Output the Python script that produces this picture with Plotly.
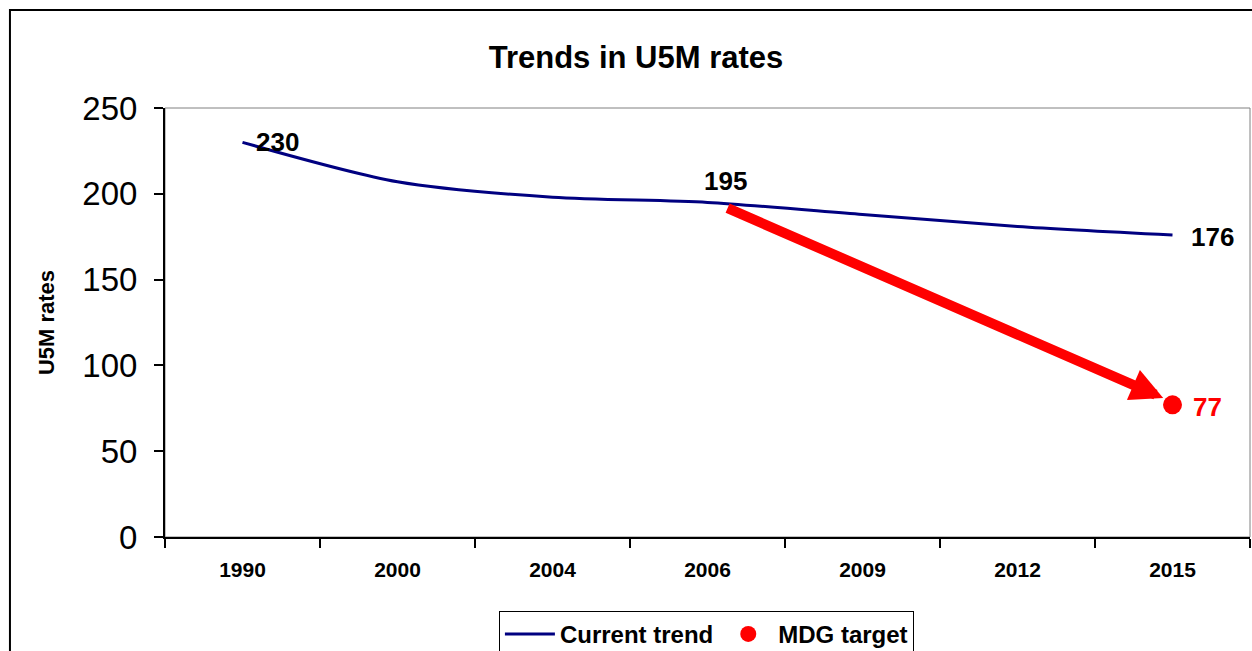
import plotly.graph_objects as go

categories = ["1990", "2000", "2004", "2006", "2009", "2012", "2015"]
current_trend = [230, 207, 198, 195, 188, 181, 176]
labelled_points = ["1990", "2006", "2015"]
mdg_category = "2015"
mdg_target = [77]
arrow_start_value = 192
arrow_end_value = 81

FONT = "Arial, Liberation Sans, sans-serif"
xpos = list(range(len(categories)))
mdg_x = categories.index(mdg_category)

fig = go.Figure()
fig.add_trace(go.Scatter(
    x=xpos, y=current_trend, mode="lines", name="Current trend",
    line=dict(color="#000080", width=3, shape="spline", smoothing=0.8),
))
fig.add_trace(go.Scatter(
    x=[mdg_x], y=mdg_target, mode="markers", name="MDG target",
    marker=dict(color="#FF0000", size=19),
    cliponaxis=False,
))

# data labels
label_style = {
    "1990": dict(xanchor="left", yanchor="middle", xshift=11, yshift=0),
    "2006": dict(xanchor="center", yanchor="bottom", xshift=18, yshift=4),
    "2015": dict(xanchor="left", yanchor="middle", xshift=16, yshift=-2),
}
for cat in labelled_points:
    i = categories.index(cat)
    fig.add_annotation(x=i, y=current_trend[i], text=f"<b>{current_trend[i]}</b>", showarrow=False,
                       font=dict(family=FONT, size=26, color="black"), **label_style[cat])
fig.add_annotation(x=mdg_x, y=mdg_target[0], text=f"<b>{mdg_target[0]}</b>", showarrow=False,
                   xanchor="left", yanchor="middle", xshift=18, yshift=-2,
                   font=dict(family=FONT, size=26, color="#FF0000"))

fig.add_annotation(
    x=mdg_x - 0.06, y=arrow_end_value, ax=3.12, ay=arrow_start_value,
    xref="x", yref="y", axref="x", ayref="y",
    showarrow=True, arrowhead=2, arrowsize=0.65, arrowwidth=10, arrowcolor="#FF0000",
    text="",
)

# outer frame and plot-area border
fig.add_shape(type="rect", xref="paper", yref="paper", x0=-0.1429, x1=1.02, y0=-0.3, y1=1.2284,
              line=dict(color="black", width=2), layer="below")
fig.add_shape(type="rect", xref="paper", yref="paper", x0=0, x1=1, y0=0, y1=1,
              line=dict(color="#808080", width=1), layer="below")

fig.update_layout(
    width=1252, height=651,
    margin=dict(l=165, r=2, t=108, b=114, autoexpand=False),
    paper_bgcolor="white", plot_bgcolor="white",
    title=dict(text="<b>Trends in U5M rates</b>", x=636 / 1252, xanchor="center",
               y=1 - 57 / 651, yanchor="middle",
               font=dict(family=FONT, size=31, color="black")),
    font=dict(family=FONT, color="black"),
    showlegend=True,
    legend=dict(orientation="h", x=0.499, xanchor="center", y=-0.172, yanchor="top",
                bordercolor="black", borderwidth=1, bgcolor="white",
                font=dict(family=FONT, size=24, color="black", weight="bold"),
                itemwidth=50, valign="top"),
)
fig.update_xaxes(
    range=[-0.5, 6.5], tickvals=xpos, ticktext=categories, ticks="", ticklen=0,
    tickfont=dict(family=FONT, size=21, color="black", weight="bold"),
    showgrid=False, zeroline=False, showline=True, linecolor="black", linewidth=2,
    minor=dict(tickvals=[i - 0.5 for i in range(len(categories) + 1)], ticks="outside",
               ticklen=9, tickcolor="black", tickwidth=1.5),
    ticklabelstandoff=13, fixedrange=True, automargin=False,
)
fig.update_yaxes(
    range=[0, 250], tickvals=[0, 50, 100, 150, 200, 250], ticks="outside", ticklen=9,
    tickcolor="black", tickwidth=1.5,
    tickfont=dict(family=FONT, size=33, color="black"),
    ticklabelstandoff=10,
    showgrid=False, zeroline=False, showline=True, linecolor="black", linewidth=2,
    title=dict(text="<b>U5M rates</b>", font=dict(family=FONT, size=22, color="black"), standoff=22),
    fixedrange=True, automargin=False,
)

fig.write_html("out.html")
